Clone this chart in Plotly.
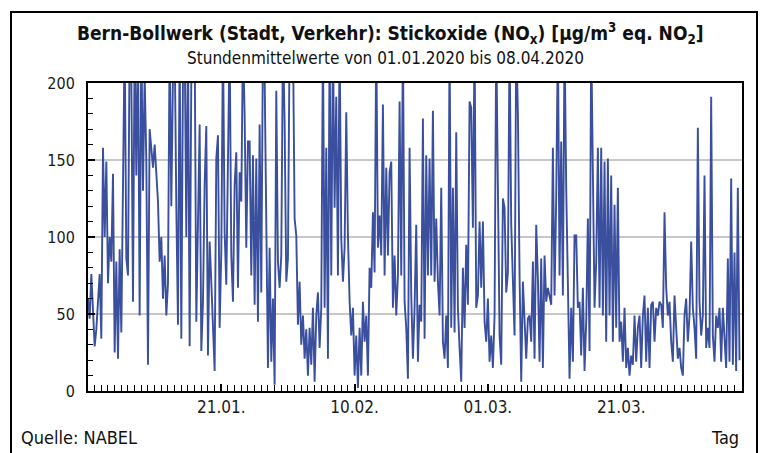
import pandas as pd
import plotly.graph_objects as go

# NOx values, 4 readings per day (00, 06, 12, 18 h); values >200 run off the top
jan_values = [
    60, 47, 76, 50,   29, 40, 60, 76,   34, 158, 100, 149,   70, 100, 84, 141,
    25, 84, 21, 92,   38, 120, 230, 86,   75, 230, 205, 58,   230, 140, 230, 49,
    230, 130, 205, 150,   17, 170, 155, 145,   160, 140, 123, 84,   100, 60, 88, 49,
    70, 230, 120, 205,   230, 119, 43, 230,   34, 205, 230, 100,   230, 29, 205, 200,
    230, 45, 120, 173,   26, 58, 134, 172,   23, 97, 71, 38,   13, 151, 166, 41,
    90, 230, 103, 69,   149, 230, 88, 58,   134, 155, 67, 142,   123, 230, 179, 93,
    162, 162, 75, 153,   56, 151, 45, 173,   64, 230, 205, 101,   15, 93, 19, 60,
    4, 195, 84, 67,   88, 230, 175, 71,   86, 230, 205, 230,
]
feb_values = [
    112, 101, 43, 71,   30, 49, 21, 40,   10, 41, 17, 54,   6, 49, 64, 28,
    54, 230, 54, 158,   21, 230, 75, 230,   119, 191, 75, 230,   99, 71, 93, 181,
    101, 58, 36, 54,   10, 36, 2, 41,   10, 58, 32, 49,   10, 80, 67, 116,
    77, 230, 93, 114,   88, 186, 75, 145,   88, 142, 149, 54,   88, 49, 75, 188,
    75, 230, 58, 41,   8, 158, 62, 21,   54, 108, 19, 56,   45, 177, 34, 153,
    75, 151, 75, 182,   71, 112, 71, 49,   132, 32, 21, 49,   15, 230, 41, 132,
    38, 168, 54, 28,   6, 80, 41, 95,   56, 188, 184, 106,   230, 54, 62, 110,
    67, 110, 45, 32,
]
mar_values = [
    60, 19, 36, 15,   49, 230, 129, 36,   17, 125, 119, 64,   77, 230, 108, 77,
    36, 230, 181, 75,   6, 71, 49, 21,   47, 49, 32, 84,   21, 108, 73, 19,
    86, 15, 88, 58,   67, 62, 56, 158,   62, 125, 230, 75,   162, 62, 230, 132,
    58, 8, 54, 19,   101, 101, 54, 58,   23, 67, 13, 45,   112, 26, 230, 125,
    54, 84, 158, 54,   158, 49, 149, 32,   151, 49, 140, 32,   121, 41, 132, 32,
    45, 19, 54, 15,   28, 10, 23, 17,   49, 19, 41, 49,   15, 49, 62, 19,
    54, 15, 56, 58,   32, 54, 49, 58,   56, 41, 116, 67,   49, 58, 32, 19,
    62, 41, 21, 28,   15, 10, 49, 60,   32, 49, 97, 54,
]
apr_values = [
    41, 21, 171, 58,   36, 49, 140, 28,   41, 28, 191, 36,   19, 49, 41, 54,
    19, 54, 32, 15,   86, 19, 138, 17,   90, 13, 132, 20,
]

start_time = "2020-01-01 00:00"
step = "6h"
x_tick_dates = ["2020-01-21", "2020-02-10", "2020-03-01", "2020-03-21"]
x_tick_labels = ["21.01.", "10.02.", "01.03.", "21.03."]
y_ticks = [0, 50, 100, 150, 200]

values = jan_values + feb_values + mar_values + apr_values
times = pd.date_range(start_time, periods=len(values), freq=step)

FONT = "DejaVu Sans Condensed, DejaVu Sans, sans-serif"

fig = go.Figure(
    go.Scatter(x=times, y=values, mode="lines",
               line=dict(color="#3a4f9e", width=1.9), hoverinfo="skip")
)

L, R, T, B = 88, 27, 83, 62
W, H = 769, 453
pw, ph = W - L - R, H - T - B


def px_x(px):
    return (px - L) / pw


def px_y(py):
    return (H - B - py) / ph


fig.update_layout(
    width=W, height=H,
    margin=dict(l=L, r=R, t=T, b=B, pad=0),
    paper_bgcolor="white", plot_bgcolor="white",
    showlegend=False,
    font=dict(family=FONT, color="#1a1a1a"),
    xaxis=dict(
        type="date",
        range=["2020-01-01 00:00", "2020-04-08 03:00"],
        tickvals=x_tick_dates, ticktext=x_tick_labels,
        ticks="inside", ticklen=7, tickwidth=1.5, tickcolor="black",
        showline=True, linecolor="black", linewidth=2, mirror=True,
        showgrid=False, zeroline=False,
        tickfont=dict(size=17, family=FONT),
        minor=dict(ticks="inside", dtick=86400000, tick0="2020-01-01",
                   ticklen=6, tickwidth=1.2, tickcolor="black", showgrid=False),
    ),
    yaxis=dict(
        range=[0, 200], tickvals=y_ticks,
        ticks="inside", ticklen=7, tickwidth=1.5, tickcolor="black",
        showline=True, linecolor="black", linewidth=2, mirror=True,
        showgrid=True, gridcolor="#c8c8c8", gridwidth=1.5, zeroline=False,
        tickfont=dict(size=16, family=FONT),
        ticklabelstandoff=8,
        minor=dict(ticks="inside", dtick=10, ticklen=5, tickwidth=1.2,
                   tickcolor="black", showgrid=False),
    ),
    shapes=[dict(type="rect", xref="paper", yref="paper",
                 x0=px_x(11), x1=px_x(757), y0=px_y(470), y1=px_y(12),
                 line=dict(color="black", width=2), fillcolor="rgba(0,0,0,0)")],
    annotations=[
        dict(text="<b>Bern-Bollwerk (Stadt, Verkehr): Stickoxide (NO<sub>x</sub>) [µg/m<sup>3</sup> eq. NO<sub>2</sub>]</b>",
             xref="paper", yref="paper", x=px_x(390), y=px_y(34),
             xanchor="center", yanchor="middle", showarrow=False,
             font=dict(size=19, family=FONT, color="#111")),
        dict(text="Stundenmittelwerte von 01.01.2020 bis 08.04.2020",
             xref="paper", yref="paper", x=px_x(385), y=px_y(58),
             xanchor="center", yanchor="middle", showarrow=False,
             font=dict(size=17, family=FONT, color="#111")),
        dict(text="Quelle: NABEL", xref="paper", yref="paper",
             x=px_x(19), y=px_y(437), xanchor="left", yanchor="middle",
             showarrow=False, font=dict(size=18, family=FONT, color="#111")),
        dict(text="Tag", xref="paper", yref="paper",
             x=px_x(741), y=px_y(437), xanchor="right", yanchor="middle",
             showarrow=False, font=dict(size=18, family=FONT, color="#111")),
    ],
)

fig.write_html("out.html", config={"displayModeBar": False},
               post_script="document.body.style.margin='0';document.body.style.overflow='hidden';")
